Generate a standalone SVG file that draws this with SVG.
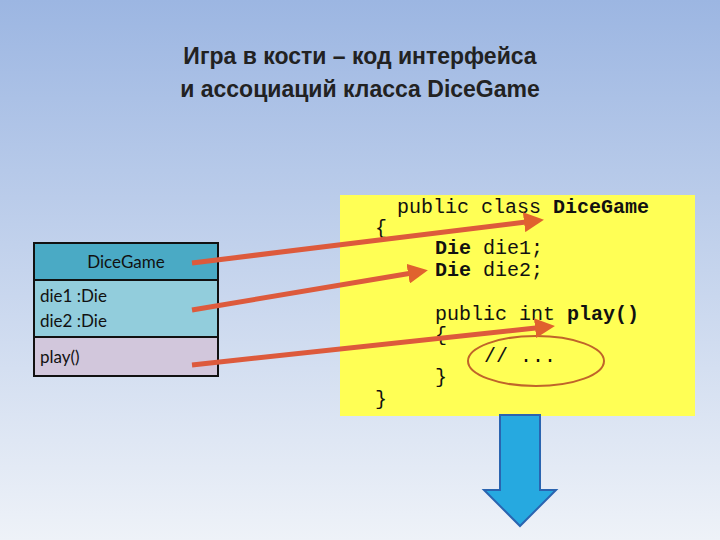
<svg xmlns="http://www.w3.org/2000/svg" width="720" height="540" viewBox="0 0 720 540">
<defs>
<linearGradient id="bg" x1="0" y1="0" x2="0" y2="1"><stop offset="0" stop-color="#9cb6e2"/><stop offset="1" stop-color="#eef2f8"/></linearGradient>
<marker id="ah" markerWidth="4" markerHeight="4" refX="2" refY="2" orient="auto" markerUnits="strokeWidth"><path d="M0,0 L4,2 L0,4 z" fill="#e0622e"/></marker>
<style>
.t{font-family:"Liberation Sans",Arial,sans-serif;font-weight:bold;font-size:23px;fill:#222}
.m{font-family:"Liberation Mono","Courier New",monospace;font-size:20px;fill:#111}
.u{font-family:Lato,"Open Sans",sans-serif;font-size:17px;fill:#111}
.c{stroke:#dd5a3c;stroke-width:5;fill:none;marker-end:url(#ah)}
</style>
</defs>
<rect width="720" height="540" fill="url(#bg)"/>
<text class="t" x="360" y="64" text-anchor="middle">Игра в кости – код интерфейса</text>
<text class="t" x="360" y="97" text-anchor="middle">и ассоциаций класса DiceGame</text>
<g id="code">
<rect x="340" y="195" width="355" height="221" fill="#ffff55"/>
<text class="m" x="397" y="213">public class <tspan font-weight="bold">DiceGame</tspan></text>
<text class="m" x="375" y="234">{</text>
<text class="m" x="435" y="254"><tspan font-weight="bold">Die</tspan> die1;</text>
<text class="m" x="435" y="276"><tspan font-weight="bold">Die</tspan> die2;</text>
<text class="m" x="435" y="320">public int <tspan font-weight="bold">play()</tspan></text>
<text class="m" x="435" y="341">{</text>
<text class="m" x="484" y="362">// ...</text>
<text class="m" x="435" y="383">}</text>
<text class="m" x="375" y="405">}</text>
<ellipse cx="536" cy="361" rx="68" ry="25" fill="none" stroke="#c0642a" stroke-width="2"/>
</g>
<g id="class">
<rect x="34" y="243" width="184" height="37" fill="#4aaac5" stroke="#111" stroke-width="2"/>
<rect x="34" y="280" width="184" height="57" fill="#92cddc" stroke="#111" stroke-width="2"/>
<rect x="34" y="337" width="184" height="39" fill="#d2c7dc" stroke="#111" stroke-width="2"/>
<text class="u" x="126" y="268" text-anchor="middle">DiceGame</text>
<text class="u" x="40" y="302">die1 :Die</text>
<text class="u" x="40" y="327">die2 :Die</text>
<text class="u" x="40" y="363">play()</text>
</g>
<g id="connectors">
<path class="c" d="M192,263 L534,221"/>
<path class="c" d="M192,310 L418,272"/>
<path class="c" d="M192,365 L545,327"/>
<path d="M500,415 H540 V490 H556 L520,526 L484,490 H500 Z" fill="#26a9e0" stroke="#2a64b0" stroke-width="2"/>
</g>
</svg>
